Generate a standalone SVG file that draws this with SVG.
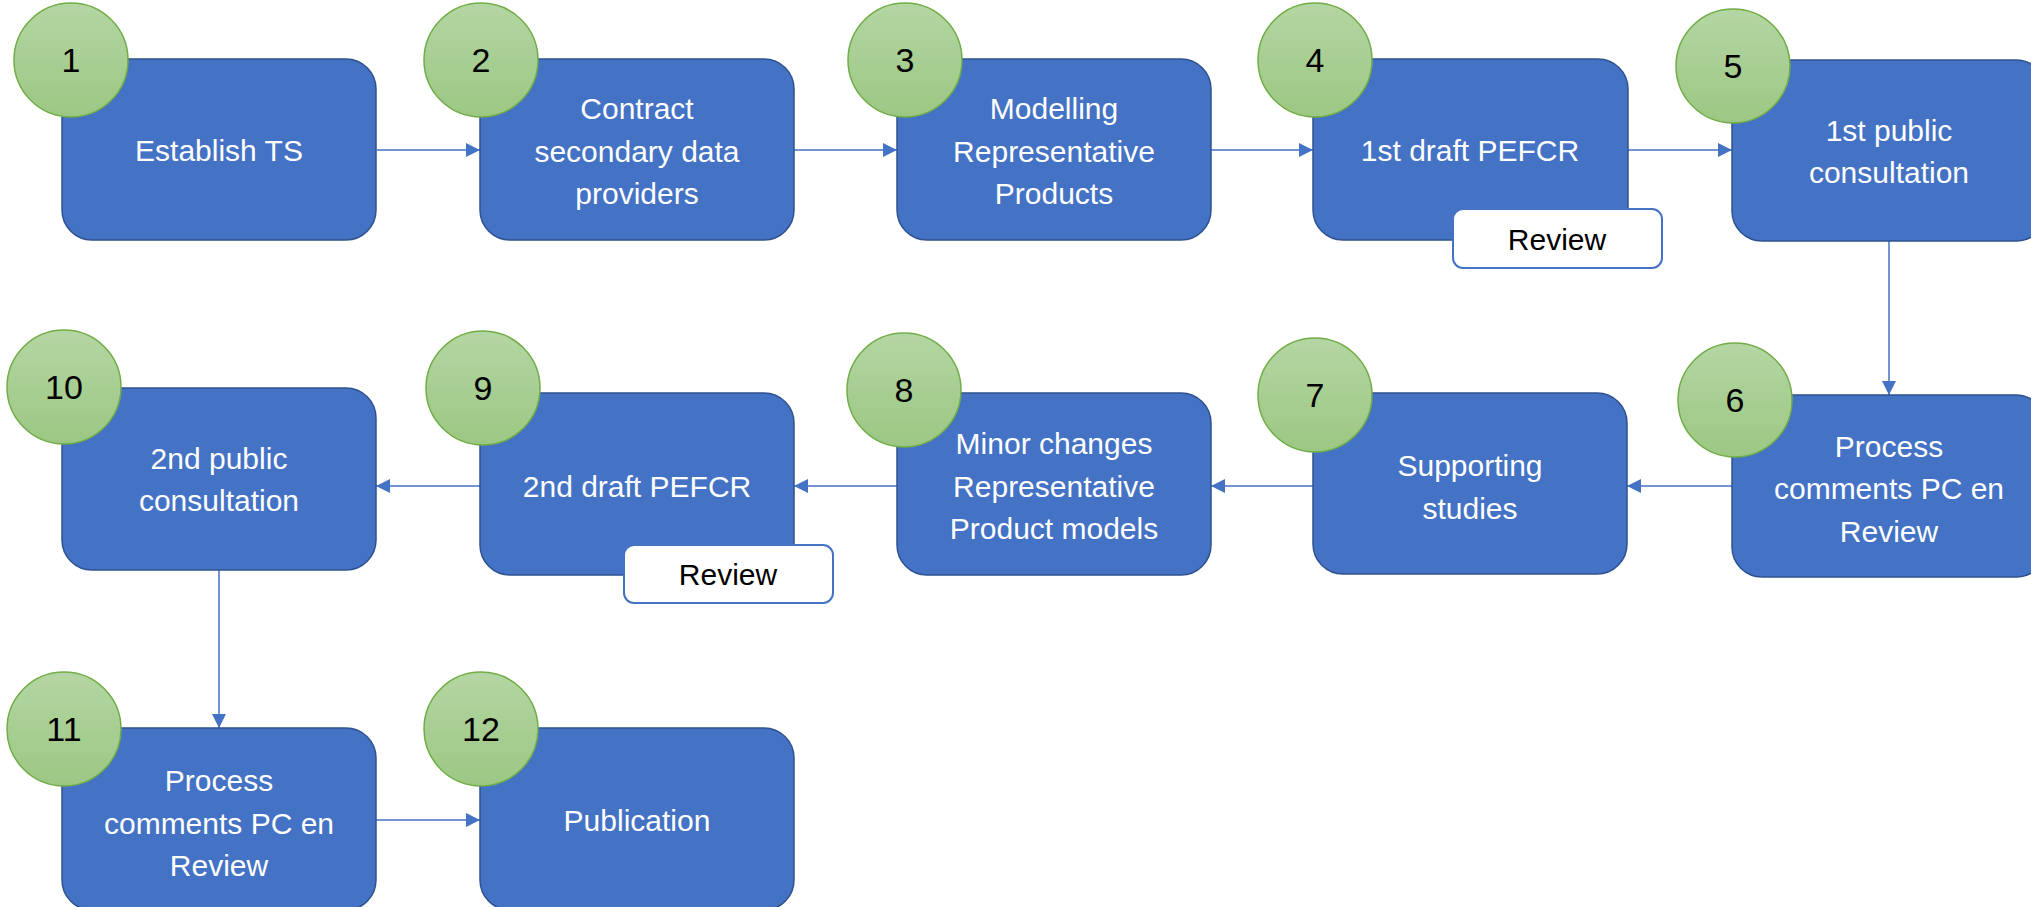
<svg xmlns="http://www.w3.org/2000/svg" width="2031" height="907" viewBox="0 0 2031 907">
<defs>
<linearGradient id="g" x1="0" y1="0" x2="0" y2="1">
<stop offset="0" stop-color="#B4D6A3"/>
<stop offset="1" stop-color="#9CC783"/>
</linearGradient>
<marker id="ah" markerUnits="userSpaceOnUse" markerWidth="14" markerHeight="14" refX="14" refY="7" orient="auto">
<path d="M0,0 L14,7 L0,14 z" fill="#4472C4"/>
</marker>
<style>
.box{fill:#4472C4;stroke:#2F528F;stroke-width:1.5}
.num{fill:url(#g);stroke:#70AD47;stroke-width:1.5}
.rev{fill:#fff;stroke:#4472C4;stroke-width:2}
.t{font-family:"Liberation Sans",Arial,sans-serif;font-size:30px;fill:#fff;text-anchor:middle}
.n{font-family:"Liberation Sans",Arial,sans-serif;font-size:34px;fill:#000;text-anchor:middle}
.r{font-family:"Liberation Sans",Arial,sans-serif;font-size:30px;fill:#000;text-anchor:middle}
.c{stroke:#4472C4;stroke-width:1.5;fill:none;marker-end:url(#ah)}
</style>
</defs>
<rect width="2031" height="907" fill="#fff"/>
<g id="connectors">
<line class="c" x1="377" y1="150" x2="480" y2="150"/>
<line class="c" x1="794" y1="150" x2="897" y2="150"/>
<line class="c" x1="1211" y1="150" x2="1313" y2="150"/>
<line class="c" x1="1628" y1="150" x2="1732" y2="150"/>
<line class="c" x1="1889" y1="241" x2="1889" y2="395"/>
<line class="c" x1="1732" y1="486" x2="1627" y2="486"/>
<line class="c" x1="1313" y1="486" x2="1211" y2="486"/>
<line class="c" x1="897" y1="486" x2="794" y2="486"/>
<line class="c" x1="480" y1="486" x2="376" y2="486"/>
<line class="c" x1="219" y1="569" x2="219" y2="728"/>
<line class="c" x1="376" y1="820" x2="480" y2="820"/>
</g>
<g id="node1">
<rect class="box" x="62" y="59" width="314" height="181" rx="30"/>
<text class="t" x="219" y="161">Establish TS</text>
<circle class="num" cx="71" cy="60" r="57"/>
<text class="n" x="71" y="72">1</text>
</g>
<g id="node2">
<rect class="box" x="480" y="59" width="314" height="181" rx="30"/>
<text class="t" x="637" y="119">Contract</text>
<text class="t" x="637" y="162">secondary data</text>
<text class="t" x="637" y="204">providers</text>
<circle class="num" cx="481" cy="60" r="57"/>
<text class="n" x="481" y="72">2</text>
</g>
<g id="node3">
<rect class="box" x="897" y="59" width="314" height="181" rx="30"/>
<text class="t" x="1054" y="119">Modelling</text>
<text class="t" x="1054" y="162">Representative</text>
<text class="t" x="1054" y="204">Products</text>
<circle class="num" cx="905" cy="60" r="57"/>
<text class="n" x="905" y="72">3</text>
</g>
<g id="node4">
<rect class="box" x="1313" y="59" width="315" height="181" rx="30"/>
<text class="t" x="1470" y="161">1st draft PEFCR</text>
<circle class="num" cx="1315" cy="60" r="57"/>
<text class="n" x="1315" y="72">4</text>
<rect class="rev" x="1453" y="209" width="209" height="59" rx="10"/>
<text class="r" x="1557" y="250">Review</text>
</g>
<g id="node5">
<rect class="box" x="1732" y="60" width="314" height="181" rx="30"/>
<text class="t" x="1889" y="141">1st public</text>
<text class="t" x="1889" y="183">consultation</text>
<circle class="num" cx="1733" cy="66" r="57"/>
<text class="n" x="1733" y="78">5</text>
</g>
<g id="node6">
<rect class="box" x="1732" y="395" width="314" height="182" rx="30"/>
<text class="t" x="1889" y="457">Process</text>
<text class="t" x="1889" y="499">comments PC en</text>
<text class="t" x="1889" y="542">Review</text>
<circle class="num" cx="1735" cy="400" r="57"/>
<text class="n" x="1735" y="412">6</text>
</g>
<g id="node7">
<rect class="box" x="1313" y="393" width="314" height="181" rx="30"/>
<text class="t" x="1470" y="476">Supporting</text>
<text class="t" x="1470" y="519">studies</text>
<circle class="num" cx="1315" cy="395" r="57"/>
<text class="n" x="1315" y="407">7</text>
</g>
<g id="node8">
<rect class="box" x="897" y="393" width="314" height="182" rx="30"/>
<text class="t" x="1054" y="454">Minor changes</text>
<text class="t" x="1054" y="497">Representative</text>
<text class="t" x="1054" y="539">Product models</text>
<circle class="num" cx="904" cy="390" r="57"/>
<text class="n" x="904" y="402">8</text>
</g>
<g id="node9">
<rect class="box" x="480" y="393" width="314" height="182" rx="30"/>
<text class="t" x="637" y="497">2nd draft PEFCR</text>
<circle class="num" cx="483" cy="388" r="57"/>
<text class="n" x="483" y="400">9</text>
<rect class="rev" x="624" y="545" width="209" height="58" rx="10"/>
<text class="r" x="728" y="585">Review</text>
</g>
<g id="node10">
<rect class="box" x="62" y="388" width="314" height="182" rx="30"/>
<text class="t" x="219" y="469">2nd public</text>
<text class="t" x="219" y="511">consultation</text>
<circle class="num" cx="64" cy="387" r="57"/>
<text class="n" x="64" y="399">10</text>
</g>
<g id="node11">
<rect class="box" x="62" y="728" width="314" height="182" rx="30"/>
<text class="t" x="219" y="791">Process</text>
<text class="t" x="219" y="834">comments PC en</text>
<text class="t" x="219" y="876">Review</text>
<circle class="num" cx="64" cy="729" r="57"/>
<text class="n" x="64" y="741">11</text>
</g>
<g id="node12">
<rect class="box" x="480" y="728" width="314" height="182" rx="30"/>
<text class="t" x="637" y="831">Publication</text>
<circle class="num" cx="481" cy="729" r="57"/>
<text class="n" x="481" y="741">12</text>
</g>
</svg>
